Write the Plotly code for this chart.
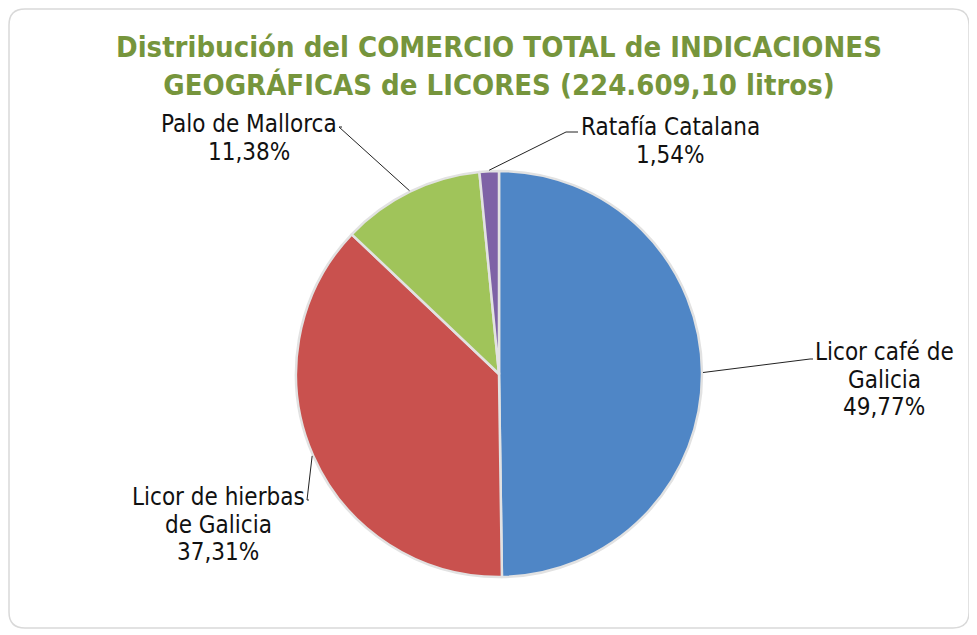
import math
import plotly.graph_objects as go

labels = ["Licor café de Galicia", "Licor de hierbas de Galicia", "Palo de Mallorca", "Ratafía Catalana"]
label_lines = [["Licor café de", "Galicia"], ["Licor de hierbas", "de Galicia"], ["Palo de Mallorca"], ["Ratafía Catalana"]]
values = [49.77, 37.31, 11.38, 1.54]
pct_text = ["49,77%", "37,31%", "11,38%", "1,54%"]
colors = ["#4F86C6", "#C9514E", "#A0C45A", "#7E62A6"]

OFF = 8  # page body margin
W, H = 977 - OFF, 635 - OFF


def px(x):
    return (x - OFF) / W


def py(y):
    return 1 - (y - OFF) / H


cx, cy, R = 499, 374, 203

fig = go.Figure(go.Pie(
    labels=labels, values=values, sort=False, direction="clockwise", rotation=0,
    marker=dict(colors=colors, line=dict(color="#E2E2E2", width=2.5)),
    textinfo="none", hoverinfo="label+percent", showlegend=False,
    domain=dict(x=[px(cx - R), px(cx + R)], y=[py(cy + R), py(cy - R)]),
))

label_first = [(884, 352), (218, 497), (249, 124), (670, 127)]
spacing = 27.5
elbows = [(810, 359), (307, 500), (339, 127), (566, 132)]
ends = [(813, 359), (309, 500), (342, 127), (578, 132)]

total = sum(values)
cum = 0
shapes = []
annotations = []
for i, v in enumerate(values):
    mid = (cum + v / 2) / total * 2 * math.pi
    cum += v
    ex = cx + (R + 1) * math.sin(mid)
    ey = cy - (R + 1) * math.cos(mid)
    bx, by = elbows[i]
    fx, fy = ends[i]
    for (x0, y0, x1, y1) in [(ex, ey, bx, by), (bx, by, fx, fy)]:
        shapes.append(dict(type="line", xref="paper", yref="paper",
                           x0=px(x0), y0=py(y0), x1=px(x1), y1=py(y1),
                           line=dict(color="#222222", width=1)))
    lx, ly = label_first[i]
    for j, t in enumerate(label_lines[i] + [pct_text[i]]):
        annotations.append(dict(x=px(lx), y=py(ly + j * spacing), xref="paper", yref="paper",
                                text=t, showarrow=False,
                                align="center", xanchor="center", yanchor="middle",
                                font=dict(family="DejaVu Sans Condensed", size=24, color="#111111")))

# rounded chart border
x0b, y0b, x1b, y1b, rr = 9, 9, 969, 628, 16
pts = [
    f"M {px(x0b + rr)},{py(y0b)}",
    f"L {px(x1b - rr)},{py(y0b)}",
    f"Q {px(x1b)},{py(y0b)} {px(x1b)},{py(y0b + rr)}",
    f"L {px(x1b)},{py(y1b - rr)}",
    f"Q {px(x1b)},{py(y1b)} {px(x1b - rr)},{py(y1b)}",
    f"L {px(x0b + rr)},{py(y1b)}",
    f"Q {px(x0b)},{py(y1b)} {px(x0b)},{py(y1b - rr)}",
    f"L {px(x0b)},{py(y0b + rr)}",
    f"Q {px(x0b)},{py(y0b)} {px(x0b + rr)},{py(y0b)} Z",
]
shapes.append(dict(type="path", xref="paper", yref="paper", path=" ".join(pts),
                   line=dict(color="#D9D9D9", width=1.5), layer="below"))

annotations.append(dict(x=px(499), y=py(66), xref="paper", yref="paper", showarrow=False,
                        text="<b>Distribución del COMERCIO TOTAL de INDICACIONES<br>GEOGRÁFICAS de LICORES (224.609,10 litros)</b>",
                        font=dict(family="DejaVu Sans Condensed", size=29, color="#76953C"),
                        xanchor="center", yanchor="middle", align="center"))

fig.update_layout(width=W, height=H, margin=dict(l=0, r=0, t=0, b=0),
                  paper_bgcolor="white", plot_bgcolor="white",
                  shapes=shapes, annotations=annotations)
fig.write_html("out.html")
